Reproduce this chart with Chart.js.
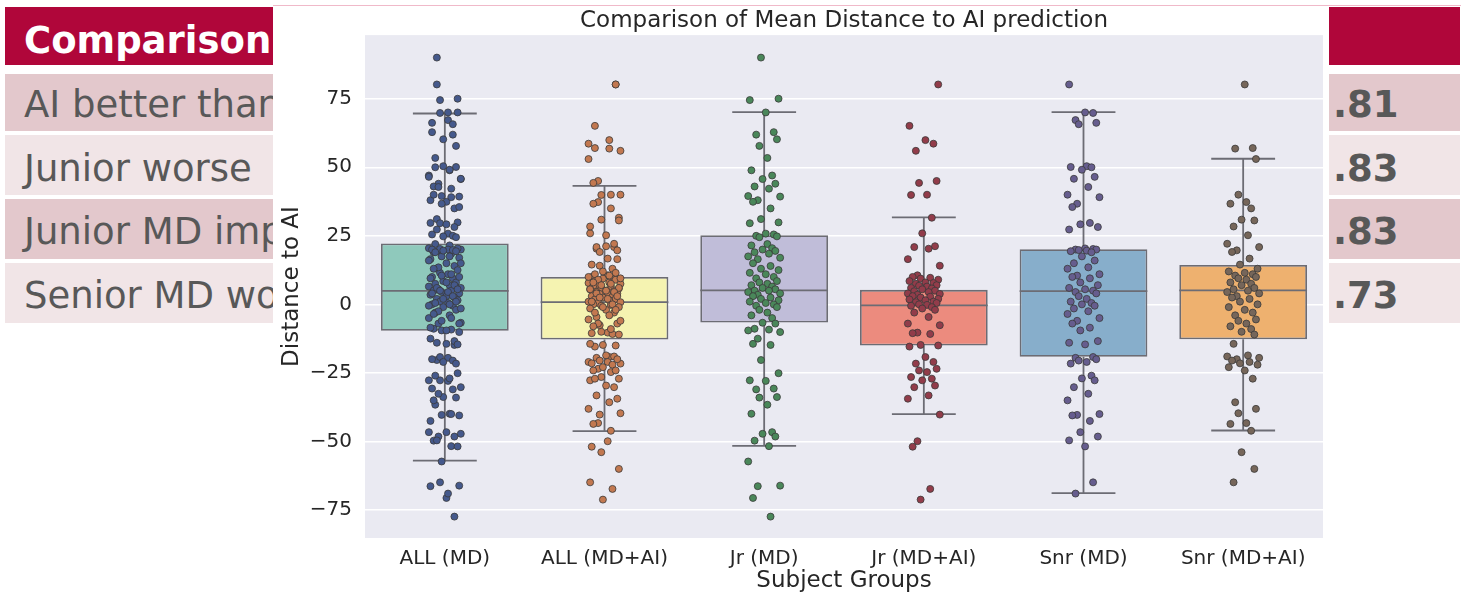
<!DOCTYPE html>
<html>
<head>
<meta charset="utf-8">
<script src="https://cdn.jsdelivr.net/npm/chart.js@4.4.1/dist/chart.umd.min.js"></script>
<style>
  body { margin: 0; width: 1461px; height: 597px; overflow: hidden; background: #fff; position: relative; font-family: "DejaVu Sans", Verdana, sans-serif; }
  .band { position: absolute; left: 5px; width: 1455px; }
  .txt { position: absolute; font-size: 37px; line-height: 37px; white-space: nowrap; color: #585858; }
  .bold { font-weight: bold; }
  #panel { position: absolute; left: 273px; top: 7px; width: 1056px; height: 590px; background: #fff; }
  #topline { position: absolute; left: 273px; top: 5px; width: 1188px; height: 1px; background: #f0b9c9; }
  #wrap { position: absolute; left: 272px; top: 7px; width: 1144px; height: 590px; }
</style>
</head>
<body>
<!-- slide table behind the chart -->
<div class="band" style="top:7px;height:58px;background:#b0063a"></div>
<div class="band" style="top:74px;height:57px;background:#e3c8cc"></div>
<div class="band" style="top:135px;height:60px;background:#f1e5e7"></div>
<div class="band" style="top:199px;height:60px;background:#e3c8cc"></div>
<div class="band" style="top:263px;height:60px;background:#f1e5e7"></div>
<div class="txt bold" style="left:24px;top:22px;color:#fff">Comparison</div>
<div class="txt" style="left:24px;top:86px">AI better than MD</div>
<div class="txt" style="left:24px;top:150px">Junior worse</div>
<div class="txt" style="left:24px;top:213px">Junior MD improved with AI</div>
<div class="txt" style="left:24px;top:277px">Senior MD worse with AI</div>
<div class="txt bold" style="left:1333px;top:86px">.81</div>
<div class="txt bold" style="left:1333px;top:150px">.83</div>
<div class="txt bold" style="left:1333px;top:213px">.83</div>
<div class="txt bold" style="left:1333px;top:277px">.73</div>

<div id="panel"></div>
<div id="topline"></div>
<div id="wrap"><canvas id="chart" width="1144" height="590"></canvas></div>

<script>
// groups on the x axis
const categories = ['ALL (MD)', 'ALL (MD+AI)', 'Jr (MD)', 'Jr (MD+AI)', 'Snr (MD)', 'Snr (MD+AI)'];

// box stats
const whiskerLow = [-57.0, -46.2, -51.6, -40.0, -68.8, -46.0];
const q1 = [-9.6, -12.8, -6.6, -15.0, -19.1, -12.7];
const median = [4.9, 0.8, 5.1, -0.4, 4.8, 5.1];
const q3 = [22.2, 10.0, 25.2, 5.3, 20.1, 14.4];
const whiskerHigh = [69.6, 43.2, 70.1, 31.7, 70.1, 53.1];

const yTicks = [-75, -50, -25, 0, 25, 50, 75];

// strip points (ALL = Jr + Snr)
const jrMD = [90, 75, 74.5, 70, 62.8, 61.9, 60.2, 57.8, 53.4, 48.9, 47, 45.7, 44, 43, 42.2, 39.5, 39.3, 38, 37.4, 35,
  31.1, 29.9, 29.6, 25.8, 25.5, 25, 24.8, 24.5,
  22, 21.5, 20.5, 20, 19.5, 19, 18.5, 17.5, 17, 16.5, 15, 14, 13, 12.5, 11.5, 11, 10, 9.5, 8.5, 8, 7.5, 7, 6.5, 6,
  5.5, 5, 5, 4.5, 4, 3.5, 3, 2.5, 2, 1.5, 1, 0.5, 0, -0.5, -1, -2, -3, -4, -5,
  -6.7, -7, -8.9, -9.2, -9.5, -10.1, -12.5, -14.4, -14.8, -20.3, -25.1, -27.7, -27.9, -30.7, -31, -33.8, -34,
  -36.6, -39.9, -46.6, -47.2, -48.2, -49.7, -51.7, -57.3, -66.1, -66.3, -70.6, -77.4];
const jrAI = [80.2, 65.1, 59.9, 58.6, 56, 45, 44.3, 40, 39.9, 31.6, 25.9, 21.2, 20.9, 20.3, 16.5, 14.1, 10.6, 10, 9.7, 9.4,
  9, 8.5, 8, 7.8, 7.5, 7, 6.8, 6.5, 6, 5.8, 5.5, 5, 4.8, 4.5, 4, 3.8, 3.5, 3, 2.8, 2.5, 2, 1.8, 1.5, 1, 0.8, 0.5, 0,
  -0.2, -0.5, -1, -1.5, -2, -3,
  -4.6, -7, -7.6, -10.3, -10.5, -10.8, -14.8, -15, -15.4, -19.2, -21, -21.6, -23.5, -24.1, -24.7, -26.5, -27.1,
  -27.7, -29.6, -30.2, -33.2, -34.4, -40.2, -49.9, -51.9, -67.3, -71.2];
const snrMD = [80.2, 70, 69.8, 67.2, 66.2, 65.7, 50.4, 50.1, 50, 49.1, 46.5, 45.8, 42.8, 40, 39.1, 36.7, 35.5,
  29.7, 29.2, 28.2, 27.3, 20.4, 20.2, 20, 20, 19.8, 19.6, 19.4, 19,
  17.5, 16, 15, 13.5, 13, 11, 10.5, 10, 9.5, 8, 7, 6, 5.5, 5, 4.5, 4, 3, 2, 1, 0.5, 0, -0.5, -1.5, -2.5, -3.5,
  -5, -6, -7, -8.5, -9.5,
  -13.4, -14, -14.6, -19.2, -19.5, -20, -20.5, -21, -21.6, -26, -27, -27.7, -30.2, -32.6, -35, -40, -40.3, -40.5,
  -42.5, -46.6, -48.2, -49.6, -51.8, -64.9, -69];
const snrAI = [80.2, 57, 56.8, 53, 40, 37.3, 36.7, 35, 30.9, 30.6, 28.4, 25.2, 22.1, 20.9, 19.7, 19.1, 16.7,
  14.5, 13, 12, 11.5, 11, 10.5, 10, 9.5, 9, 8, 7.5, 7, 6, 5.5, 5, 4.5, 4, 3, 2.5, 2, 1, 0, -1, -2, -3, -4, -5.5,
  -6, -7, -8, -9, -10, -11,
  -14.4, -18.6, -19, -19.5, -20, -20.5, -21, -21.5, -22, -22.9, -24.1, -27.1, -35.7, -38.1, -39.7, -43.3, -43.6,
  -46.1, -53.9, -60, -64.9];
const groupPoints = [jrMD.concat(snrMD), jrAI.concat(snrAI), jrMD, jrAI, snrMD, snrAI];

// fixed strip jitter, in category widths
const jitter = [-0.07, 0.04, -0.02, 0.09, -0.09, 0.01, 0.06, -0.05, 0.08, -0.03, 0.02, -0.08, 0.05, -0.01, 0.07, -0.06, 0.03, -0.1, 0.1, -0.04];

const boxColors = ['#8fc9bc', '#f5f3b1', '#c0bdd9', '#ec8b7e', '#87aecb', '#eeb16f'];
const pointColors = ['#45598c', '#c27850', '#4a875a', '#923c4a', '#665d8e', '#76665a'];
const lineGrey = '#6c6c74';

const FONT = "'DejaVu Sans', sans-serif";
const TEXT = '#262626';

// line segments for whiskers, caps and medians (null breaks the line)
const whiskerPts = [], capPts = [], medianPts = [];
categories.forEach((c, i) => {
  whiskerPts.push({x: i, y: q3[i]}, {x: i, y: whiskerHigh[i]}, {x: i, y: null});
  whiskerPts.push({x: i, y: q1[i]}, {x: i, y: whiskerLow[i]}, {x: i, y: null});
  capPts.push({x: i - 0.2, y: whiskerHigh[i]}, {x: i + 0.2, y: whiskerHigh[i]}, {x: i, y: null});
  capPts.push({x: i - 0.2, y: whiskerLow[i]}, {x: i + 0.2, y: whiskerLow[i]}, {x: i, y: null});
  medianPts.push({x: i - 0.4, y: median[i]}, {x: i + 0.4, y: median[i]}, {x: i, y: null});
});

const lineSet = (data) => ({
  type: 'line', data: data, borderColor: lineGrey, borderWidth: 1.8, pointRadius: 0,
  fill: false, spanGaps: false, order: 1
});

const datasets = [
  {
    type: 'bar',
    data: categories.map((c, i) => ({x: i, y: [q1[i], q3[i]]})),
    backgroundColor: boxColors,
    borderColor: lineGrey,
    borderWidth: 1.8,
    borderSkipped: false,
    categoryPercentage: 1,
    barPercentage: 0.8,
    order: 2
  },
  lineSet(whiskerPts),
  lineSet(capPts),
  lineSet(medianPts)
];

groupPoints.forEach((vals, i) => {
  const shift = i < 2 ? 7 * (i + 1) : i;
  datasets.push({
    type: 'scatter',
    data: vals.map((v, k) => ({x: i + jitter[(k + shift) % jitter.length], y: v})),
    backgroundColor: pointColors[i],
    borderColor: '#3a3a3a',
    borderWidth: 0.8,
    pointRadius: 3.5,
    order: 0
  });
});

const plotBackground = {
  id: 'plotBackground',
  beforeDraw(chart) {
    const a = chart.chartArea, ctx = chart.ctx;
    ctx.save();
    ctx.fillStyle = '#eaeaf2';
    ctx.fillRect(a.left, a.top, a.right - a.left, a.bottom - a.top);
    ctx.restore();
  }
};

new Chart(document.getElementById('chart'), {
  type: 'bar',
  data: {datasets: datasets},
  plugins: [plotBackground],
  options: {
    responsive: false,
    animation: false,
    layout: {padding: 0},
    plugins: {
      legend: {display: false},
      tooltip: {enabled: false},
      title: {
        display: true,
        text: 'Comparison of Mean Distance to AI prediction',
        color: TEXT,
        font: {family: FONT, size: 23, weight: 'normal'},
        padding: {top: 0.5, bottom: 0}
      }
    },
    scales: {
      x: {
        type: 'linear',
        min: -0.5,
        max: 5.5,
        offset: false,
        grid: {display: false, drawTicks: false},
        border: {display: false},
        afterBuildTicks: s => { s.ticks = categories.map((c, i) => ({value: i})); },
        afterFit: s => { s.height = 59; },
        ticks: {
          autoSkip: false, maxRotation: 0, padding: 9, color: TEXT,
          font: {family: FONT, size: 20},
          callback: v => categories[v]
        },
        title: {
          display: true, text: 'Subject Groups', color: TEXT,
          font: {family: FONT, size: 23}, padding: {top: 0, bottom: 2}
        }
      },
      y: {
        min: -85.2,
        max: 98.2,
        grid: {color: '#ffffff', lineWidth: 1.5, drawTicks: false},
        border: {display: false},
        afterBuildTicks: s => { s.ticks = yTicks.map(v => ({value: v})); },
        afterFit: s => { s.width = 93; },
        ticks: {
          padding: 13, color: TEXT,
          font: {family: FONT, size: 20},
          callback: v => v < 0 ? '\u2212' + Math.abs(v) : String(v)
        },
        title: {
          display: true, text: 'Distance to AI', color: TEXT,
          font: {family: FONT, size: 23}, padding: {top: 6, bottom: 0}
        }
      },
      // empty right-hand axis that keeps the plot clear of the values column
      spacer: {
        type: 'linear',
        position: 'right',
        min: 0,
        max: 1,
        grid: {display: false, drawTicks: false},
        border: {display: false},
        ticks: {display: false},
        afterFit: s => { s.width = 93; }
      }
    }
  }
});
</script>
</body>
</html>
